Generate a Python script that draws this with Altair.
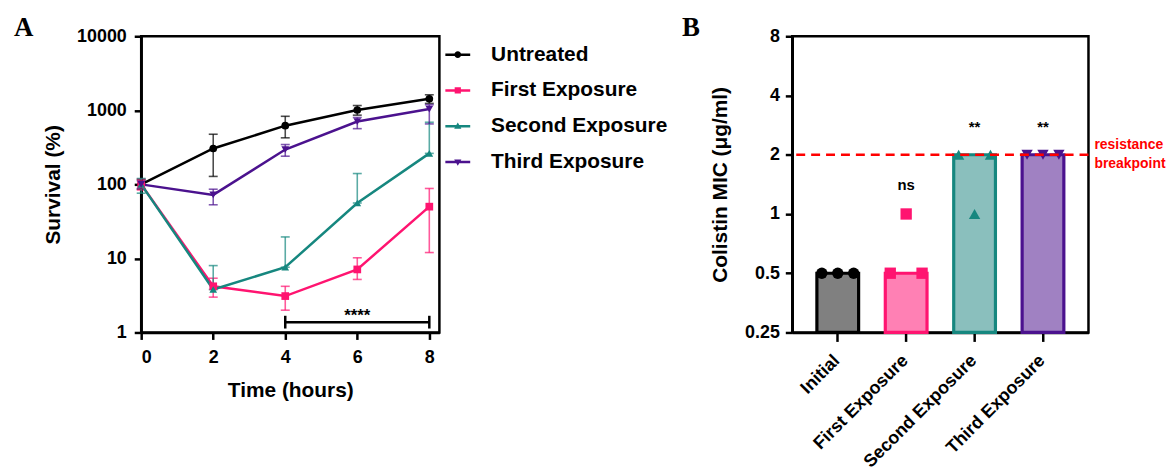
import altair as alt
import pandas as pd

# ---------------- Panel A data ----------------
series = ["Untreated", "First Exposure", "Second Exposure", "Third Exposure"]
hours = [0, 2, 4, 6, 8]
untreated = [100, 305, 620, 1010, 1430]
untreated_lo = [86, 128, 425, 860, 1240]
untreated_hi = [116, 475, 830, 1160, 1620]
first = [100, 4.2, 3.1, 7.1, 50]
first_lo = [84, 3.0, 2.0, 5.2, 12]
first_hi = [118, 5.4, 4.2, 10.2, 88]
second = [100, 3.8, 7.6, 56, 262]
second_lo = [76, 3.8, 7.6, 56, 262]
second_hi = [120, 8.0, 19.5, 140, 690]
third = [100, 72, 295, 705, 1040]
third_lo = [88, 53, 240, 565, 655]
third_hi = [112, 86, 345, 800, 1190]

dark_colors = ["#000000", "#FF1470", "#16877F", "#4B128E"]
light_colors = ["#808080", "#FF80B4", "#8ABFBD", "#A081C2"]

sig_a_start = [4]
sig_a_end = [8]
sig_a_level = [1.37]
sig_a_cap_lo = [1.13]
sig_a_cap_hi = [1.68]
sig_a_text = ["****"]
sig_a_text_level = [1.8]

# ---------------- Panel B data ----------------
groups = ["Initial", "First Exposure", "Second Exposure", "Third Exposure"]
mic_median = [0.5, 0.5, 2, 2]
mic_rep1 = [0.5, 0.5, 2, 2]
mic_rep2 = [0.5, 1, 1, 2]
mic_rep3 = [0.5, 0.5, 2, 2]
sig_b_labels = ["", "ns", "**", "**"]
sig_b_levels = [1.45, 1.45, 2.85, 2.85]
breakpoint_value = [2]
breakpoint_text = ["resistance", "breakpoint"]

FONT = "Liberation Sans"

# ---------------- build tables ----------------
vals = [untreated, first, second, third]
los = [untreated_lo, first_lo, second_lo, third_lo]
his = [untreated_hi, first_hi, second_hi, third_hi]
rows = []
for s, v, lo, hi in zip(series, vals, los, his):
    for h, a, b, c in zip(hours, v, lo, hi):
        rows.append({"series": s, "series_leg": s, "hour": h, "value": a, "lo": b, "hi": c})
dfa = pd.DataFrame(rows)

shape_paths = [
    "M-1,-0.1H1V0.1H-1Z M0.27,0A0.27,0.27 0 1,1 -0.27,0A0.27,0.27 0 1,1 0.27,0Z",
    "M-1,-0.1H1V0.1H-1Z M-0.25,-0.25H0.25V0.25H-0.25Z",
    "M-1,-0.1H1V0.1H-1Z M0,-0.3L0.29,0.2H-0.29Z",
    "M-1,-0.1H1V0.1H-1Z M-0.29,-0.2H0.29L0,0.3Z",
]

xa = alt.X("hour:Q", scale=alt.Scale(domain=[0, 8.28], nice=False, zero=False),
           axis=alt.Axis(values=hours, title="Time (hours)", format="d",
                         labelPadding=9, titlePadding=13))
ya = alt.Y("value:Q", scale=alt.Scale(type="log", domain=[1, 10000], nice=False),
           axis=alt.Axis(values=[1, 10, 100, 1000, 10000], format="d",
                         title="Survival (%)", titlePadding=13, labelPadding=8))
col_a = alt.Color("series:N", scale=alt.Scale(domain=series, range=dark_colors), legend=None)

base_a = alt.Chart(dfa)

err = base_a.mark_errorbar(ticks={"size": 9, "thickness": 1.6}, thickness=1.6, opacity=0.7).encode(
    x=xa,
    y=alt.Y("lo:Q", scale=alt.Scale(type="log", domain=[1, 10000], nice=False), title="Survival (%)"),
    y2="hi:Q",
    color=col_a,
)
lines = base_a.mark_line(strokeWidth=2.5).encode(x=xa, y=ya, color=col_a, detail="series:N")
pts = base_a.mark_point(filled=True, size=60, opacity=1).encode(
    x=xa, y=ya, color=col_a,
    shape=alt.Shape("series:N", scale=alt.Scale(domain=series,
                    range=["circle", "square", "triangle-up", "triangle-down"]), legend=None),
)
legend_opts = dict(title=None, orient="none", legendX=306, legendY=6,
                   symbolSize=625, symbolStrokeWidth=0, labelOffset=21,
                   labelFontSize=21, labelFontWeight="bold", labelFont=FONT, labelLimit=400,
                   rowPadding=13, padding=0, symbolOpacity=1)
leg = base_a.transform_filter("false").mark_point(filled=True, size=625, opacity=1).encode(
    x=xa, y=ya,
    color=alt.Color("series_leg:N", scale=alt.Scale(domain=series, range=dark_colors),
                    legend=alt.Legend(**legend_opts)),
    shape=alt.Shape("series_leg:N", scale=alt.Scale(domain=series, range=shape_paths),
                    legend=alt.Legend(**legend_opts)),
)

sig_df = pd.DataFrame({"x": sig_a_start, "x2": sig_a_end, "y": sig_a_level,
                       "lo": sig_a_cap_lo, "hi": sig_a_cap_hi,
                       "tx": [(a + b) / 2 for a, b in zip(sig_a_start, sig_a_end)],
                       "ty": sig_a_text_level, "t": sig_a_text})
sig_h = alt.Chart(sig_df).mark_rule(color="black", strokeWidth=2.5).encode(
    x=alt.X("x:Q", scale=alt.Scale(domain=[0, 8.28], nice=False)), x2="x2:Q",
    y=alt.Y("y:Q", scale=alt.Scale(type="log", domain=[1, 10000], nice=False)))
sig_c1 = alt.Chart(sig_df).mark_rule(color="black", strokeWidth=2.5).encode(
    x="x:Q", y="lo:Q", y2="hi:Q")
sig_c2 = alt.Chart(sig_df).mark_rule(color="black", strokeWidth=2.5).encode(
    x="x2:Q", y="lo:Q", y2="hi:Q")
sig_t = alt.Chart(sig_df).mark_text(fontSize=17, fontWeight="bold", font=FONT, baseline="middle", dy=2).encode(
    x="tx:Q", y="ty:Q", text="t:N")

lab_a = alt.Chart(pd.DataFrame({"t": ["A"]})).mark_text(
    font="Liberation Serif", fontSize=27, fontWeight="bold", align="left", baseline="alphabetic"
).encode(x=alt.value(-128), y=alt.value(0), text="t:N")

panel_a = alt.layer(err, lines, pts, leg, sig_h, sig_c1, sig_c2, sig_t, lab_a).resolve_scale(
    color="independent", shape="independent"
).properties(width=300, height=298)

# ---------------- Panel B ----------------
dfb = pd.DataFrame({"group": groups, "median": mic_median, "base": [0.25] * 4,
                    "sig": sig_b_labels, "sigy": sig_b_levels})
prow = []
for g, a, b, c in zip(groups, mic_rep1, mic_rep2, mic_rep3):
    for r, v in zip(["r1", "r2", "r3"], [a, b, c]):
        prow.append({"group": g, "rep": r, "mic": v})
dfp = pd.DataFrame(prow)

xb = alt.X("group:N", sort=groups,
           scale=alt.Scale(domain=groups, paddingInner=0.39, paddingOuter=0.36),
           axis=alt.Axis(title=None, labelAngle=-45, labelPadding=10, labelOffset=-7, tickSize=9))
yscale_b = alt.Scale(type="log", base=2, domain=[0.25, 8], nice=False)
yaxis_b = alt.Axis(values=[0.25, 0.5, 1, 2, 4, 8], format="~g", title="Colistin MIC  (μg/ml)",
                   titlePadding=14, labelPadding=6)

bars = alt.Chart(dfb).mark_bar(strokeWidth=3.2).encode(
    x=xb,
    y=alt.Y("median:Q", scale=yscale_b, axis=yaxis_b),
    y2="base:Q",
    fill=alt.Fill("group:N", scale=alt.Scale(domain=groups, range=light_colors), legend=None),
    stroke=alt.Stroke("group:N", scale=alt.Scale(domain=groups, range=dark_colors), legend=None),
)
rep_layers = []
for r, off in zip(["r1", "r2", "r3"], [-16, 0, 16]):
    rep_layers.append(
        alt.Chart(dfp).transform_filter(alt.datum.rep == r).mark_point(
            filled=True, size=130, opacity=1, xOffset=off).encode(
            x=xb,
            y=alt.Y("mic:Q", scale=yscale_b, axis=yaxis_b),
            color=alt.Color("group:N", scale=alt.Scale(domain=groups, range=dark_colors), legend=None),
            shape=alt.Shape("group:N", scale=alt.Scale(domain=groups,
                            range=["circle", "square", "triangle-up", "triangle-down"]), legend=None),
        )
    )
bp_df = pd.DataFrame({"y": breakpoint_value})
bp_line = alt.Chart(bp_df).mark_rule(color="#FF0000", strokeWidth=2.5, strokeDash=[9, 6]).encode(
    y=alt.Y("y:Q", scale=yscale_b, axis=yaxis_b))
bp_text = alt.Chart(pd.DataFrame({"y": breakpoint_value, "t": [breakpoint_text]})).mark_text(
    color="#FF0000", fontSize=14, fontWeight="bold", font=FONT, align="left", baseline="middle",
    lineHeight=19, dy=-10
).encode(x=alt.value(304), y=alt.Y("y:Q", scale=yscale_b, axis=yaxis_b), text="t")
sig_b = alt.Chart(dfb).mark_text(fontSize=15, fontWeight="bold", font=FONT, baseline="middle", dy=3).encode(
    x=xb, y=alt.Y("sigy:Q", scale=yscale_b, axis=yaxis_b), text="sig:N")
lab_b = alt.Chart(pd.DataFrame({"t": ["B"]})).mark_text(
    font="Liberation Serif", fontSize=27, fontWeight="bold", align="left", baseline="alphabetic"
).encode(x=alt.value(-111), y=alt.value(0), text="t:N")

panel_b = alt.layer(bars, *rep_layers, bp_line, bp_text, sig_b, lab_b).properties(width=298, height=298)

chart = alt.hconcat(panel_a, panel_b, spacing=10).resolve_scale(
    color="independent", shape="independent", fill="independent", stroke="independent"
).configure(font=FONT, padding={"left": 4, "top": 3, "right": 0, "bottom": 5}).configure_axis(
    labelFont=FONT, titleFont=FONT, labelFontSize=18, labelFontWeight="bold", titleFontSize=21,
    titleFontWeight="bold", labelColor="black", titleColor="black", domainColor="black",
    tickColor="black", domainWidth=2.5, tickWidth=2.5, tickSize=7, grid=False,
).configure_view(stroke="black", strokeWidth=2.5)

chart.save("out.html", embed_options={"renderer": "svg", "actions": False})
